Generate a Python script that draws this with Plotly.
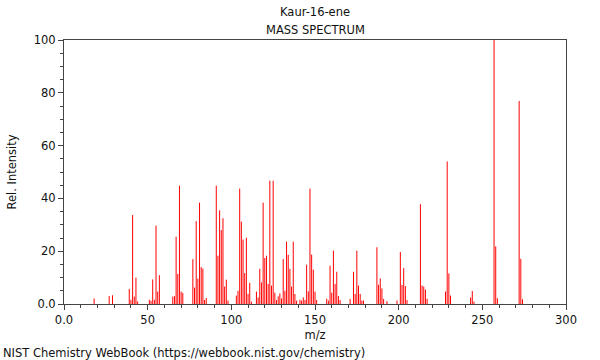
import plotly.graph_objects as go

mz = [18, 27, 29, 39, 40, 41, 42, 43, 44, 51, 52, 53, 54, 55, 56, 57,
      65, 66, 67, 68, 69, 70, 71, 77, 78, 79, 80, 81, 82, 83, 84, 85,
      91, 92, 93, 94, 95, 96, 97, 98, 103, 104, 105, 106, 107, 108, 109, 110, 111, 112,
      115, 116, 117, 118, 119, 120, 121, 122, 123, 124, 125, 126, 127, 128, 129, 130,
      131, 132, 133, 134, 135, 136, 137, 138, 139, 141, 142, 143, 144, 145, 146, 147,
      148, 149, 150, 151, 157, 158, 159, 160, 161, 162, 163, 164, 165, 171, 173, 174,
      175, 176, 177, 178, 179, 187, 188, 189, 190, 191, 193, 199, 201, 202, 203, 204,
      205, 213, 214, 215, 216, 217, 228, 229, 230, 231, 243, 244, 245, 257, 258, 259,
      272, 273, 274]
intensity = [2.1, 3.0, 3.3, 5.7, 1.6, 33.7, 2.8, 10.0, 1.0, 1.6, 1.2, 9.3, 1.6, 29.7, 4.7, 10.9,
             2.8, 3.0, 25.5, 11.4, 44.8, 4.7, 4.2, 17.0, 6.2, 31.4, 9.6, 38.4, 14.0, 13.4, 1.5, 2.3,
             44.8, 18.3, 35.5, 28.0, 32.5, 6.6, 9.2, 1.3, 3.2, 5.0, 43.7, 31.2, 24.4, 11.7, 25.1, 3.8, 8.0, 0.9,
             4.7, 2.5, 13.3, 8.2, 38.4, 17.4, 18.3, 7.6, 46.7, 7.0, 46.7, 4.3, 1.5, 2.9, 4.0, 2.1,
             17.0, 5.0, 23.6, 18.6, 13.3, 6.6, 23.6, 3.8, 1.3, 1.6, 1.3, 2.5, 1.5, 14.9, 4.8, 43.7,
             18.7, 13.0, 4.7, 1.5, 2.0, 1.3, 14.5, 4.3, 20.2, 7.6, 12.2, 3.0, 1.5, 1.9, 12.2, 3.8,
             20.2, 7.0, 3.8, 1.3, 1.3, 21.5, 7.3, 9.7, 5.9, 1.9, 1.1, 1.3, 19.7, 7.2, 13.6, 6.8,
             1.5, 37.8, 7.0, 6.6, 5.4, 2.0, 4.7, 54.0, 11.6, 3.2, 2.5, 4.9, 0.9, 100.0, 21.8, 2.2,
             76.9, 17.1, 1.8]

x_ticks = [0, 50, 100, 150, 200, 250, 300]
x_ticktext = ["0.0", "50", "100", "150", "200", "250", "300"]
y_ticks = [0, 20, 40, 60, 80, 100]
y_ticktext = ["0.0", "20", "40", "60", "80", "100"]

xs, ys = [], []
for m, h in zip(mz, intensity):
    xs += [m, m, None]
    ys += [0, h, None]

FONT = "DejaVu Sans"
FS = 11.5
AX = "#444444"

fig = go.Figure(go.Scatter(x=xs, y=ys, mode="lines",
                           line=dict(color="#ff0000", width=1),
                           hoverinfo="skip", showlegend=False))

fig.update_layout(
    width=600, height=360,
    margin=dict(l=62, r=34, t=40, b=56),
    paper_bgcolor="white", plot_bgcolor="white",
    font=dict(family=FONT, size=FS, color="#111111"),
    xaxis=dict(range=[0, 300], tickvals=x_ticks, ticktext=x_ticktext,
               ticks="outside", ticklen=5, tickcolor=AX, showgrid=False, zeroline=False,
               showline=True, linecolor=AX, linewidth=1, mirror=True,
               minor=dict(dtick=10, ticks="outside", ticklen=3, tickcolor=AX, showgrid=False),
               title=dict(text="m/z", standoff=5, font=dict(size=FS))),
    yaxis=dict(range=[0, 100], tickvals=y_ticks, ticktext=y_ticktext,
               ticks="outside", ticklen=5, tickcolor=AX, showgrid=False, zeroline=False,
               showline=True, linecolor=AX, linewidth=1, mirror=True,
               minor=dict(dtick=5, ticks="outside", ticklen=3, tickcolor=AX, showgrid=False),
               title=dict(text="Rel. Intensity", standoff=14, font=dict(size=FS))),
    annotations=[
        dict(text="Kaur-16-ene", xref="paper", yref="paper", x=0.5, y=(304 - 12) / 264,
             xanchor="center", yanchor="middle", showarrow=False, font=dict(size=FS)),
        dict(text="MASS SPECTRUM", xref="paper", yref="paper", x=0.5, y=(304 - 30) / 264,
             xanchor="center", yanchor="middle", showarrow=False, font=dict(size=FS)),
        dict(text="NIST Chemistry WebBook (https://webbook.nist.gov/chemistry)",
             xref="paper", yref="paper", x=(-1 - 62) / 504, y=(304 - 353) / 264,
             xanchor="left", yanchor="middle", showarrow=False, font=dict(size=FS)),
    ],
)

fig.write_html("out.html", config={"displayModeBar": False},
               post_script="document.body.style.margin='0';document.body.style.padding='0';")
